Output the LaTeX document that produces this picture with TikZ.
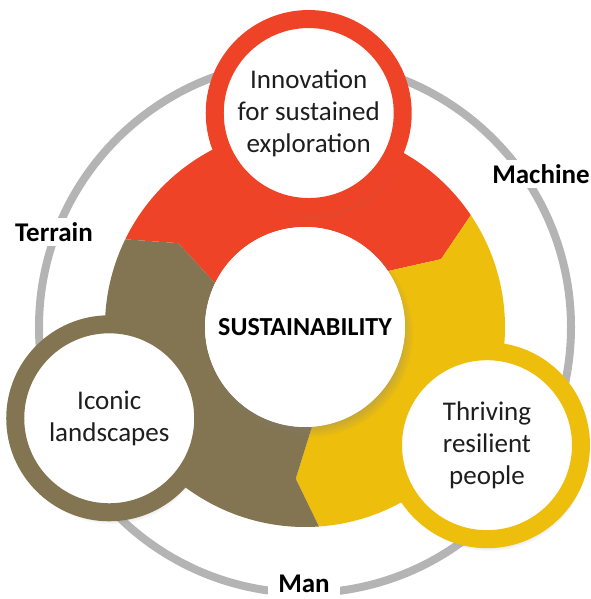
\documentclass[tikz,border=0pt]{standalone}
\usepackage{fontspec}
\setmainfont{Carlito}
\usepackage{tikz}
\usetikzlibrary{calc, positioning, shadows}
\definecolor{segred}{RGB}{238,67,38}
\definecolor{segyellow}{RGB}{237,190,12}
\definecolor{segolive}{RGB}{131,117,81}
\definecolor{ringgrey}{RGB}{180,180,180}
\definecolor{textdark}{RGB}{30,30,30}

\tikzset{
  pillar/.style={circle, draw=#1, line width=18pt, fill=white, minimum size=188pt,
    inner sep=0pt, align=center, text=textdark, font=\fontsize{27}{32}\selectfont,
    circular drop shadow={shadow xshift=2pt, shadow yshift=-7pt, shadow scale=1.05, opacity=0.55}},
  ringlabel/.style={fill=white, inner xsep=8pt, inner ysep=4pt, text=black,
    font=\bfseries\fontsize{27}{30}\selectfont}
}

\begin{document}
\begin{tikzpicture}[x=1pt, y=1pt]
  \useasboundingbox (-305,-272) rectangle (285,327);
  % Outer grey ring
  \draw[ringgrey, line width=8pt] (0,0) circle[radius=266];
  % Ring labels
  \node[ringlabel] (terrain) at (-251,95) {Terrain};
  \node[ringlabel] (machine) at (236,153) {Machine};
  \node[ringlabel, inner xsep=10pt] (man) at (-1,-257) {Man};
  % Coloured segments with arrow-like ends
  \foreach \a/\col in {34/segred, -86/segyellow, 154/segolive}
    \fill[\col] (\a:200) arc[start angle=\a, end angle=\a+120, radius=200]
      -- (\a+112.5:152) -- (\a+120:100)
      arc[start angle=\a+120, end angle=\a, radius=100]
      -- (\a-7.5:152) -- cycle;
  % Centre
  \node[circle, fill=white, minimum size=200pt, inner sep=0pt,
    circular drop shadow={shadow xshift=4pt, shadow yshift=-6pt, shadow scale=1.04, opacity=0.45},
    font=\bfseries\fontsize{26}{30}\selectfont, text=black] (core) at (0,0) {SUSTAINABILITY};
  % Three pillars
  \node[pillar=segred] (innovation) at (89:214) {Innovation\\for sustained\\exploration};
  \node[pillar=segolive] (iconic) at (205:216) {Iconic\\landscapes};
  \node[pillar=segyellow] (thriving) at (-33:217) {Thriving\\resilient\\people};
\end{tikzpicture}
\end{document}
